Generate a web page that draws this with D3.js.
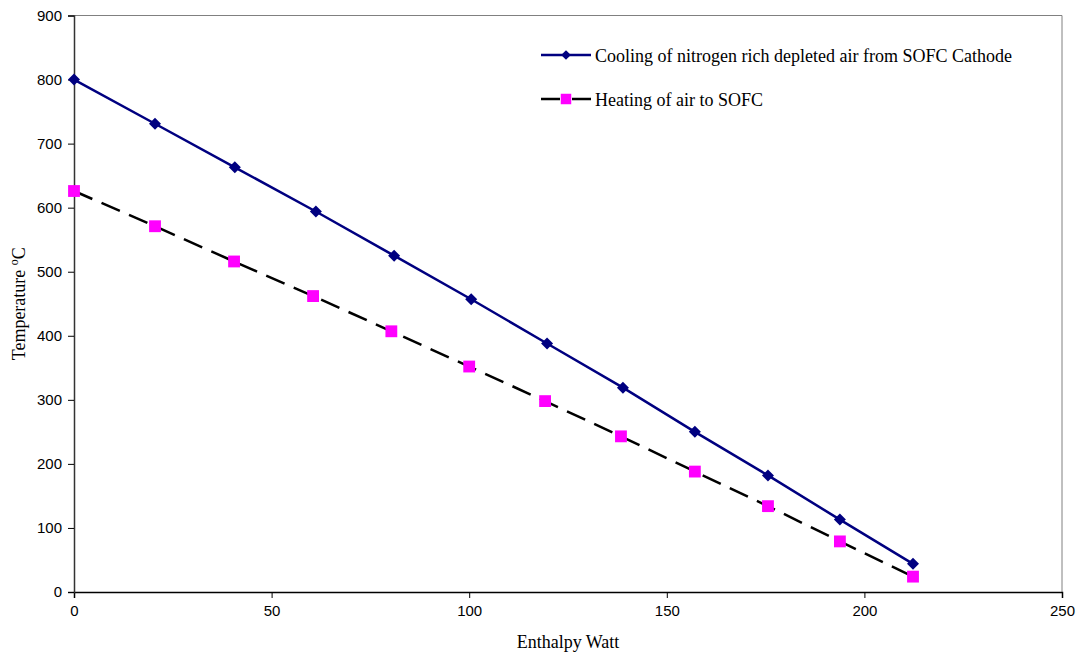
<!DOCTYPE html>
<html>
<head>
<meta charset="utf-8">
<script src="https://cdn.jsdelivr.net/npm/d3@7"></script>
<style>
  body { margin: 0; background: #fff; }
  .tick text { font-family: "Liberation Sans", Arial, sans-serif; font-size: 15px; fill: #000; }
  .axis-title, .legend text { font-family: "Liberation Serif", "Times New Roman", serif; fill: #000; }
</style>
</head>
<body>
<div id="wrapper"></div>
<script>
// data
const coolingX = [0, 20.5, 40.7, 61.2, 81, 100.5, 119.7, 138.9, 157.1, 175.6, 193.8, 212.3]
const coolingY = [800, 731, 663, 594, 525, 457, 388, 319, 250, 182, 113, 44]
const heatingX = [0, 20.5, 40.5, 60.5, 80.3, 100, 119.2, 138.4, 157.1, 175.6, 193.8, 212.3]
const heatingY = [626, 571, 516, 462, 407, 352, 298, 243, 188, 134, 79, 24]
const xTicks = [0, 50, 100, 150, 200, 250]
const yTicks = [0, 100, 200, 300, 400, 500, 600, 700, 800, 900]
const seriesNames = ["Cooling of nitrogen rich depleted air from SOFC Cathode", "Heating of air to SOFC"]

let dimensions = {
  width: 1081,
  height: 658,
  margin: { top: 15.5, right: 19, bottom: 66, left: 74 },
}
dimensions.boundedWidth = dimensions.width - dimensions.margin.left - dimensions.margin.right
dimensions.boundedHeight = dimensions.height - dimensions.margin.top - dimensions.margin.bottom

const wrapper = d3.select("#wrapper")
  .append("svg")
    .attr("width", dimensions.width)
    .attr("height", dimensions.height)

const bounds = wrapper.append("g")
    .attr("transform", `translate(${dimensions.margin.left}, ${dimensions.margin.top})`)

const xScale = d3.scaleLinear()
  .domain([0, 250])
  .range([0, dimensions.boundedWidth])

const yScale = d3.scaleLinear()
  .domain([0, 900])
  .range([dimensions.boundedHeight, 0])

// plot frame (top and right)
bounds.append("path")
    .attr("d", `M0,0H${dimensions.boundedWidth}V${dimensions.boundedHeight}`)
    .attr("fill", "none")
    .attr("stroke", "#808080")
    .attr("stroke-width", 1)

// axes
const xAxis = bounds.append("g")
    .attr("transform", `translate(0, ${dimensions.boundedHeight})`)
    .call(d3.axisBottom(xScale).tickValues(xTicks).tickSize(6).tickPadding(7))
xAxis.select(".domain").attr("stroke", "#000").attr("stroke-width", 1.5)
xAxis.selectAll(".tick line").attr("stroke", "#000")

const yAxis = bounds.append("g")
    .call(d3.axisLeft(yScale).tickValues(yTicks).tickSize(6).tickPadding(6))
yAxis.select(".domain").attr("stroke", "#333").attr("stroke-width", 1.5)
yAxis.selectAll(".tick line").attr("stroke", "#000")

// axis titles
wrapper.append("text")
    .attr("class", "axis-title")
    .attr("x", 568)
    .attr("y", 648)
    .attr("text-anchor", "middle")
    .style("font-size", "18px")
    .text("Enthalpy Watt")

const yTitle = wrapper.append("text")
    .attr("class", "axis-title")
    .attr("transform", `translate(25, ${dimensions.margin.top + dimensions.boundedHeight / 2}) rotate(-90)`)
    .attr("text-anchor", "middle")
    .style("font-size", "18px")
yTitle.append("tspan").text("Temperature ")
yTitle.append("tspan").attr("dy", -7).style("font-size", "12px").text("o")
yTitle.append("tspan").attr("dy", 7).text("C")

// series
const line = d3.line()
  .x(d => xScale(d[0]))
  .y(d => yScale(d[1]))

const cooling = coolingX.map((x, i) => [x, coolingY[i]])
const heating = heatingX.map((x, i) => [x, heatingY[i]])

bounds.append("path")
    .datum(heating)
    .attr("d", line)
    .attr("fill", "none")
    .attr("stroke", "#000")
    .attr("stroke-width", 2.5)
    .attr("stroke-dasharray", "20 10")

bounds.append("path")
    .datum(cooling)
    .attr("d", line)
    .attr("fill", "none")
    .attr("stroke", "#000080")
    .attr("stroke-width", 2.5)

const diamond = d3.symbol().type(d3.symbolDiamond2).size(92)
const square = d3.symbol().type(d3.symbolSquare).size(140)

bounds.selectAll(".cool-pt")
  .data(cooling)
  .join("path")
    .attr("class", "cool-pt")
    .attr("transform", d => `translate(${xScale(d[0])}, ${yScale(d[1])})`)
    .attr("d", diamond)
    .attr("fill", "#000080")

bounds.selectAll(".heat-pt")
  .data(heating)
  .join("path")
    .attr("class", "heat-pt")
    .attr("transform", d => `translate(${xScale(d[0])}, ${yScale(d[1])})`)
    .attr("d", square)
    .attr("fill", "#ff00ff")

// legend
const legend = wrapper.append("g").attr("class", "legend")
const rows = [
  { y: 55, color: "#000080", fill: "#000080", dash: null },
  { y: 99, color: "#000", fill: "#ff00ff", dash: "19 12 19" },
]
rows.forEach((r, i) => {
  legend.append("line")
      .attr("x1", 541).attr("x2", 591)
      .attr("y1", r.y).attr("y2", r.y)
      .attr("stroke", r.color)
      .attr("stroke-width", 2.5)
      .attr("stroke-dasharray", r.dash)
  legend.append("path")
      .attr("transform", `translate(566, ${r.y})`)
      .attr("d", i === 0
        ? d3.symbol().type(d3.symbolDiamond2).size(60)()
        : d3.symbol().type(d3.symbolSquare).size(110)())
      .attr("fill", r.fill)
  legend.append("text")
      .attr("x", 595)
      .attr("y", r.y + 7)
      .style("font-size", "18px")
      .text(seriesNames[i])
})
</script>
</body>
</html>
